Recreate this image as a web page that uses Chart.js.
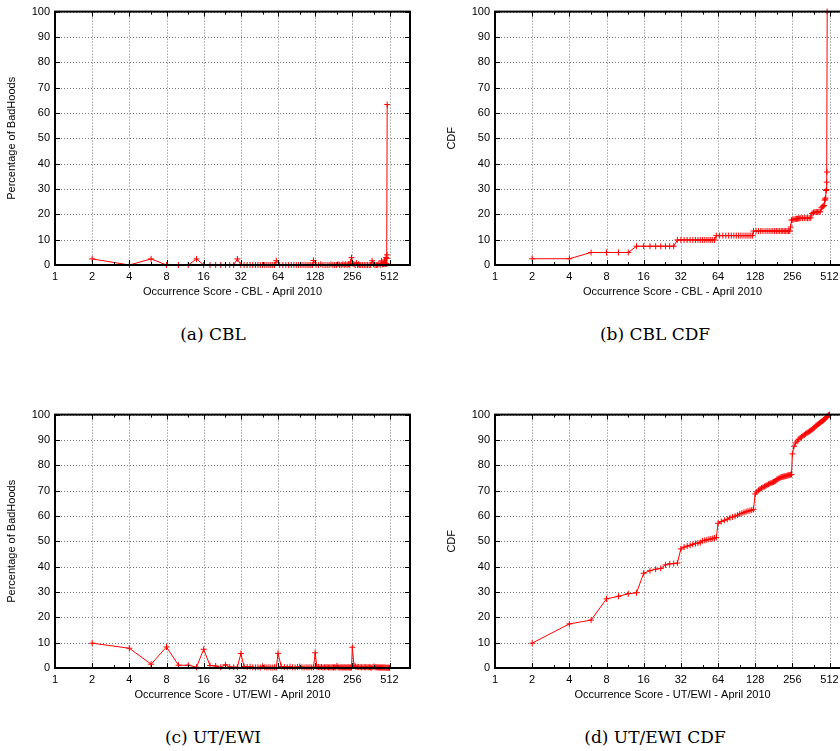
<!DOCTYPE html>
<html>
<head>
<meta charset="utf-8">
<script src="https://cdn.jsdelivr.net/npm/chart.js@4.4.0/dist/chart.umd.min.js"></script>
<style>
  html, body { margin: 0; padding: 0; background: #fff; }
  body { width: 840px; height: 751px; position: relative; overflow: hidden; }
  canvas { position: absolute; }
  .cap { position: absolute; width: 420px; text-align: center; font-family: "DejaVu Serif", serif; font-size: 17px; line-height: 20px; color: #000; }
</style>
</head>
<body>
<canvas id="cblPlot" width="420" height="300" style="left:0;top:0"></canvas>
<canvas id="cblCdfPlot" width="420" height="300" style="left:440px;top:0"></canvas>
<canvas id="utPlot" width="420" height="300" style="left:0;top:403px"></canvas>
<canvas id="utCdfPlot" width="420" height="300" style="left:440px;top:403px"></canvas>
<div class="cap" style="left:3px;top:324px">(a) CBL</div>
<div class="cap" style="left:445px;top:324px">(b) CBL CDF</div>
<div class="cap" style="left:3px;top:727px">(c) UT/EWI</div>
<div class="cap" style="left:445px;top:727px">(d) UT/EWI CDF</div>
<script>
// tick labels
var xMajor = [1, 2, 4, 8, 16, 32, 64, 128, 256, 512];
var xMinor = [3, 6, 12, 24, 48, 96, 192, 384];
var yMajor = [0, 10, 20, 30, 40, 50, 60, 70, 80, 90, 100];

// CBL - occurrence scores and values
var cblX = [2,4,6,8,10,12,14,16,18,20,22,24,26,28,30,32,34,36,38,40,42,44,46,48,50,52,54,56,58,60,62,
  66,70,74,78,82,86,90,94,98,102,106,110,114,118,122,124,
  130,136,142,148,154,160,166,172,178,184,190,196,202,208,214,220,226,232,238,244,248,252,
  258,264,270,276,282,288,294,300,
  310,320,330,340,350,360,370,380,390,400,410,420,430,440,450,
  456,462,468,472,476,480,484,486,488,490];
var cblPct = [2.4,0,2.4,0,0,0,2.4,0,0,0,0,0,0,0,2.4,0,0,0,0,0,0,0,0,0,0,0,0,0,0,0,1.7,
  0,0,0,0,0,0,0,0,0,0,0,0,0,0,0,1.8,
  0,0,0.3,0,0,0,0,0.3,0,0,0,0.3,0,0,0.3,0,0.3,0,0.3,0,1.2,2.9,
  0.6,0.3,0,0.8,0,0.3,0,0,
  0,0,0,0,0,0,1.7,0.3,0,0,0,0.5,0,1.6,0.3,
  0.4,0.3,2.0,0.8,0.4,3.0,0.5,2.6,4.0,63.3];
var cblCdf = [2.47,2.47,4.94,4.94,4.94,4.94,7.41,7.41,7.41,7.41,7.41,7.41,7.41,7.41,9.88,9.88,9.88,9.88,9.88,9.88,9.88,9.88,9.88,9.88,9.88,9.88,9.88,9.88,9.88,9.88,11.6,
  11.6,11.6,11.6,11.6,11.6,11.6,11.6,11.6,11.6,11.6,11.6,11.6,11.6,11.6,11.6,13.4,
  13.4,13.4,13.4,13.4,13.4,13.4,13.4,13.4,13.4,13.4,13.4,13.4,13.4,13.4,13.4,13.4,13.4,13.4,13.4,13.4,15.0,17.7,
  17.9,18.0,18.1,18.2,18.3,18.4,18.4,18.5,
  18.5,18.5,18.5,18.5,18.5,18.6,20.3,20.7,20.9,20.9,20.9,21.0,21.0,22.6,23.0,
  23.2,23.5,25.6,26.0,26.4,29.4,29.8,32.7,36.7,100];

// UT/EWI - occurrence scores and values
var utX = [2,4,6,8,10,12,14,16,18,20,22,24,26,28,30,32,34,36,38,40,42,44,46,48,50,52,54,56,58,60,62,64,
  68,72,76,80,84,88,92,96,100,104,108,112,116,120,124,128,
  132,136,140,144,148,152,156,160,164,168,172,176,180,184,188,192,196,200,204,208,212,216,220,224,228,232,236,240,244,248,252,256,
  264,272,280,288,296,304,312,320,328,336,344,352,360,368,376,384,392,400,408,416,424,432,440,448,456,464,472,480,488,496,504,512];
var utPct = [9.8,7.8,1.5,8.3,1.1,1.1,0.3,7.4,1.0,0.8,0.3,1.3,0.4,0.3,0.3,5.7,0.6,0.4,0.5,0.3,0.2,0.3,0.2,0.7,0.3,0.2,0.3,0.2,0.2,0.3,0.2,5.8,
  0.6,0.4,0.3,0.5,0.3,0.2,0.4,0.6,0.3,0.2,0.3,0.2,0.3,0.2,0.3,6.0,
  0.5,0.4,0.3,0.4,0.2,0.3,0.3,0.4,0.2,0.3,0.2,0.3,0.2,0.3,0.2,0.8,0.3,0.2,0.2,0.3,0.2,0.2,0.3,0.2,0.2,0.2,0.3,0.2,0.2,0.2,0.2,8.2,
  0.9,0.6,0.4,0.4,0.3,0.3,0.3,0.3,0.3,0.3,0.3,0.3,0.2,0.2,0.3,0.6,0.3,0.3,0.2,0.2,0.2,0.2,0.2,0.2,0.2,0.2,0.2,0.1,0.1,0.1,0.1,0.1];
var utCdf = [9.8,17.4,18.9,27.3,28.3,29.3,29.7,37.4,38.4,39.0,39.3,40.7,41.1,41.2,41.4,47.0,47.7,48.1,48.4,48.8,49.1,49.3,49.5,50.2,50.4,50.6,50.8,50.9,51.1,51.3,51.5,57.1,
  57.8,58.3,58.7,59.3,59.6,59.9,60.3,60.8,61.1,61.4,61.7,61.9,62.1,62.3,62.6,68.7,
  69.5,70.1,70.6,71.0,71.3,71.6,71.9,72.2,72.5,72.8,73.0,73.2,73.4,73.6,73.8,74.4,74.7,74.9,75.1,75.3,75.4,75.5,75.6,75.7,75.8,75.9,76.0,76.1,76.2,76.3,76.4,84.5,
  87.5,88.8,89.5,90.2,90.8,91.2,91.6,92.0,92.4,92.8,93.1,93.4,93.7,94.0,94.4,94.8,95.3,95.6,96.0,96.3,96.6,96.9,97.2,97.5,97.8,98.1,98.4,98.8,99.2,99.5,99.8,100];

var axisFont = { family: "'Liberation Sans', Arial, sans-serif", size: 11 };

// gnuplot-like frame: dotted grid, inward tics, black border
var gnuFrame = {
  id: 'gnuFrame',
  beforeDatasetsDraw: function (chart) {
    var ctx = chart.ctx, a = chart.chartArea, x = chart.scales.x, y = chart.scales.y;
    ctx.save();
    ctx.strokeStyle = '#777';
    ctx.lineWidth = 1;
    ctx.setLineDash([1, 2]);
    ctx.beginPath();
    xMajor.forEach(function (v) {
      var px = Math.round(x.getPixelForValue(v)) + 0.5;
      ctx.moveTo(px, a.top); ctx.lineTo(px, a.bottom);
    });
    yMajor.forEach(function (v) {
      var py = Math.round(y.getPixelForValue(v)) + 0.5;
      ctx.moveTo(a.left, py); ctx.lineTo(a.right, py);
    });
    ctx.stroke();
    ctx.restore();
  },
  afterDatasetsDraw: function (chart) {
    var ctx = chart.ctx, a = chart.chartArea, x = chart.scales.x, y = chart.scales.y;
    ctx.save();
    ctx.strokeStyle = '#000';
    ctx.lineWidth = 1;
    ctx.beginPath();
    function xt(v, len) {
      var px = Math.round(x.getPixelForValue(v)) + 0.5;
      ctx.moveTo(px, a.bottom); ctx.lineTo(px, a.bottom - len);
      ctx.moveTo(px, a.top); ctx.lineTo(px, a.top + len);
    }
    xMajor.forEach(function (v) { xt(v, 5); });
    xMinor.forEach(function (v) { xt(v, 3); });
    yMajor.forEach(function (v) {
      var py = Math.round(y.getPixelForValue(v)) + 0.5;
      ctx.moveTo(a.left, py); ctx.lineTo(a.left + 5, py);
      ctx.moveTo(a.right, py); ctx.lineTo(a.right - 5, py);
    });
    ctx.stroke();
    ctx.lineWidth = 2;
    ctx.strokeRect(a.left, a.top, a.right - a.left, a.bottom - a.top);
    ctx.restore();
  }
};

function makePlot(id, xs, ys, yTitle, xTitle) {
  var pts = xs.map(function (v, i) { return { x: v, y: ys[i] }; });
  return new Chart(document.getElementById(id), {
    type: 'scatter',
    data: {
      datasets: [{
        data: pts,
        showLine: true,
        borderColor: '#ff0000',
        borderWidth: 1,
        pointStyle: 'cross',
        pointRadius: 3,
        pointBorderWidth: 1,
        pointBorderColor: '#ff0000',
        pointBackgroundColor: '#ff0000',
        clip: 5
      }]
    },
    options: {
      responsive: false,
      animation: false,
      events: [],
      layout: { padding: { left: 0, right: 10, top: 10, bottom: 0 } },
      plugins: { legend: { display: false }, tooltip: { enabled: false } },
      scales: {
        x: {
          type: 'logarithmic',
          min: 1,
          max: 750,
          afterBuildTicks: function (s) { s.ticks = xMajor.map(function (v) { return { value: v }; }); },
          afterFit: function (s) { s.height = 35; },
          ticks: {
            autoSkip: false, maxRotation: 0, padding: 5, color: '#000', font: axisFont,
            callback: function (v) { return String(v); }
          },
          grid: { display: false, drawTicks: false },
          border: { display: false },
          title: { display: true, text: xTitle, color: '#000', font: axisFont, padding: { top: 0, bottom: 1 } }
        },
        y: {
          min: 0,
          max: 100,
          afterBuildTicks: function (s) { s.ticks = yMajor.map(function (v) { return { value: v }; }); },
          afterFit: function (s) { s.width = 55; },
          ticks: { padding: 5, color: '#000', font: axisFont },
          grid: { display: false, drawTicks: false },
          border: { display: false },
          title: { display: true, text: yTitle, color: '#000', font: axisFont, padding: { top: 5, bottom: 0 } }
        }
      }
    },
    plugins: [gnuFrame]
  });
}

makePlot('cblPlot', cblX, cblPct, 'Percentage of BadHoods', 'Occurrence Score - CBL - April 2010');
makePlot('cblCdfPlot', cblX, cblCdf, 'CDF', 'Occurrence Score - CBL - April 2010');
makePlot('utPlot', utX, utPct, 'Percentage of BadHoods', 'Occurrence Score - UT/EWI - April 2010');
makePlot('utCdfPlot', utX, utCdf, 'CDF', 'Occurrence Score - UT/EWI - April 2010');
</script>
</body>
</html>
